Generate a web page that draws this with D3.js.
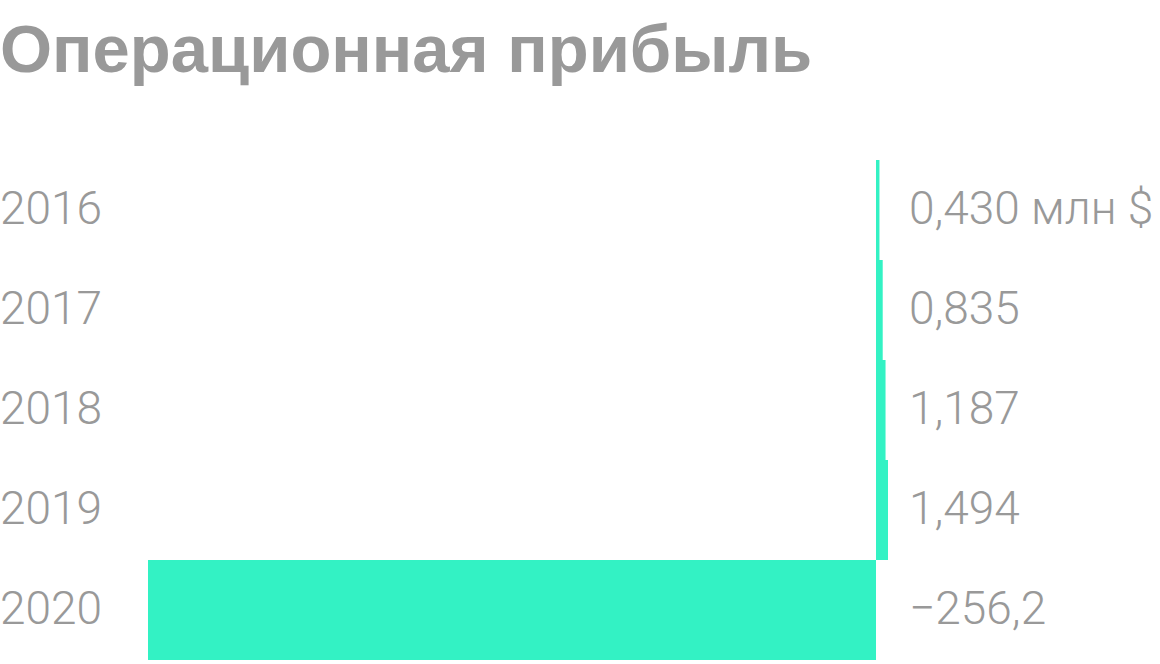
<!DOCTYPE html>
<html><head><meta charset="utf-8">
<script src="https://cdn.jsdelivr.net/npm/d3@7"></script>
<style>
html,body{margin:0;padding:0;background:#fff;}
svg{display:block;}
</style></head>
<body>
<script>
const title = "Операционная прибыль";
const years = ["2016","2017","2018","2019","2020"];
const values = [0.430, 0.835, 1.187, 1.494, -256.2];
const valueLabels = ["0,430 млн $","0,835","1,187","1,494","−256,2"];

const W = 1160, H = 664;
const svg = d3.select("body").append("svg").attr("width", W).attr("height", H);

svg.append("text").attr("x", 0).attr("y", 72)
  .attr("font-family", "'Liberation Sans', Arial, sans-serif")
  .attr("font-weight", 700).attr("font-size", 67)
  .attr("fill", "#999999").text(title);

const y = d3.scaleBand().domain(years).range([160, 660]).padding(0);
const x = d3.scaleLinear()
  .domain([d3.min(values), 0, d3.max(values)])
  .range([148, 876, 888]);

svg.selectAll("rect.bar").data(values).join("rect")
  .attr("class","bar")
  .attr("x", d => Math.min(x(0), x(d)))
  .attr("width", d => Math.abs(x(d) - x(0)))
  .attr("y", (d,i) => y(years[i]))
  .attr("height", y.bandwidth())
  .attr("fill", "#33f2c4");

svg.selectAll("text.year").data(years).join("text")
  .attr("class","year")
  .attr("x", 0).attr("y", d => y(d) + y.bandwidth()/2 + 14)
  .attr("font-family", "Roboto, sans-serif").attr("font-weight", 300)
  .attr("font-size", 46).attr("fill", "#999999").text(d => d);

svg.selectAll("text.val").data(valueLabels).join("text")
  .attr("class","val")
  .attr("x", 909).attr("y", (d,i) => y(years[i]) + y.bandwidth()/2 + 14)
  .attr("font-family", "Roboto, sans-serif").attr("font-weight", 300)
  .attr("font-size", 46).attr("fill", "#999999").text(d => d);
</script>
</body></html>
